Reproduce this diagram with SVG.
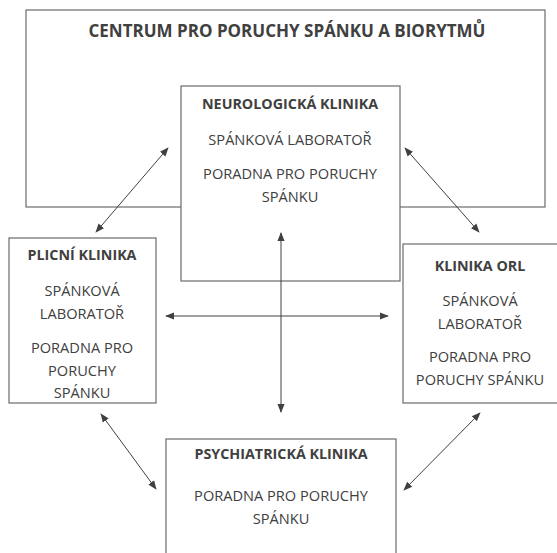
<svg xmlns="http://www.w3.org/2000/svg" width="557" height="553" viewBox="0 0 557 553">
<style>
.box{fill:#fff;stroke:#6b6b6b;stroke-width:1.2}
.t{font-family:"Open Sans","Noto Sans",sans-serif;font-size:14.6px;fill:#404040;text-anchor:middle}
.b{font-weight:bold;font-size:14.3px}
.c{stroke:#404040;stroke-width:1;fill:none;marker-start:url(#ah);marker-end:url(#ah)}
</style>
<defs>
<marker id="ah" viewBox="0 0 10 10" refX="9" refY="5" markerWidth="9" markerHeight="9" markerUnits="userSpaceOnUse" orient="auto-start-reverse">
<path d="M0,1 L10,5 L0,9 z" fill="#404040"/>
</marker>
</defs>
<g id="centrum">
<rect class="box" x="26" y="10" width="519" height="197"/>
<text class="t b" x="287" y="37" style="font-size:17px">CENTRUM PRO PORUCHY SPÁNKU A BIORYTMŮ</text>
</g>
<g id="neuro">
<rect class="box" x="181" y="86" width="219" height="195"/>
<text class="t b" x="290" y="109">NEUROLOGICKÁ KLINIKA</text>
<text class="t" x="290" y="145">SPÁNKOVÁ LABORATOŘ</text>
<text class="t" x="290" y="179">PORADNA PRO PORUCHY</text>
<text class="t" x="290" y="202">SPÁNKU</text>
</g>
<g id="plicni">
<rect class="box" x="9" y="238" width="147" height="165"/>
<text class="t b" x="82" y="260">PLICNÍ KLINIKA</text>
<text class="t" x="82" y="296">SPÁNKOVÁ</text>
<text class="t" x="82" y="319">LABORATOŘ</text>
<text class="t" x="82" y="353">PORADNA PRO</text>
<text class="t" x="82" y="376">PORUCHY</text>
<text class="t" x="82" y="398">SPÁNKU</text>
</g>
<g id="orl">
<rect class="box" x="403" y="244" width="160" height="159"/>
<text class="t b" x="480" y="271">KLINIKA ORL</text>
<text class="t" x="480" y="306">SPÁNKOVÁ</text>
<text class="t" x="480" y="329">LABORATOŘ</text>
<text class="t" x="480" y="362">PORADNA PRO</text>
<text class="t" x="480" y="385">PORUCHY SPÁNKU</text>
</g>
<g id="psych">
<rect class="box" x="166" y="439" width="230" height="130"/>
<text class="t b" x="281" y="459">PSYCHIATRICKÁ KLINIKA</text>
<text class="t" x="281" y="501">PORADNA PRO PORUCHY</text>
<text class="t" x="281" y="524">SPÁNKU</text>
</g>
<g id="connectors">
<line class="c" x1="281" y1="233" x2="281" y2="412"/>
<line class="c" x1="166" y1="316" x2="388" y2="316"/>
<line class="c" x1="168" y1="148" x2="96" y2="232"/>
<line class="c" x1="405" y1="148" x2="479" y2="232"/>
<line class="c" x1="101" y1="414" x2="156" y2="489"/>
<line class="c" x1="480" y1="413" x2="404" y2="490"/>
</g>
</svg>
